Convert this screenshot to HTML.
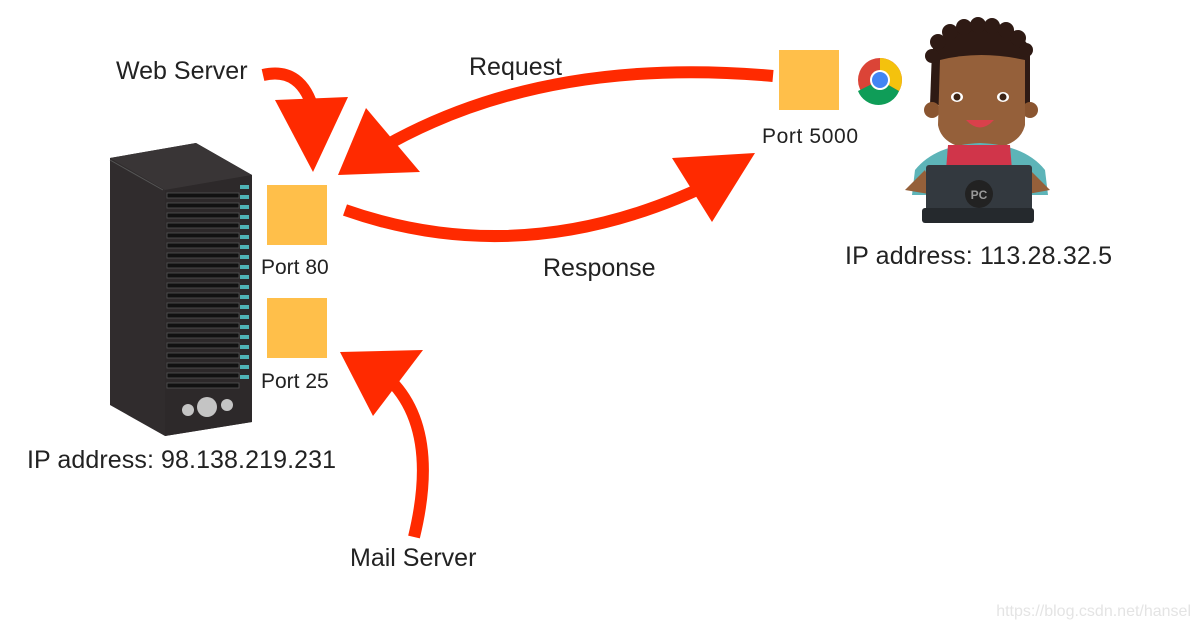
<!DOCTYPE html>
<html><head><style>
body{margin:0;background:#fff;width:1200px;height:628px;overflow:hidden;font-family:"Liberation Sans",sans-serif;}
</style></head><body>
<svg width="1200" height="628" viewBox="0 0 1200 628" xmlns="http://www.w3.org/2000/svg" font-family="Liberation Sans, sans-serif">
<!-- server -->
<polygon points="110,158 196,143 252,175 252,422 165,436 110,405" fill="#302c2d"/>
<polygon points="110,158 196,143 252,175 165,190" fill="#393536"/>
<polygon points="165,190 252,175 252,422 165,436" fill="#2d292a"/>
<line x1="110" y1="160" x2="163" y2="190" stroke="#555" stroke-width="1"/>
<g fill="#111" stroke="#555" stroke-width="0.8">
<rect x="167" y="193" width="72" height="5"/><rect x="167" y="203" width="72" height="5"/><rect x="167" y="213" width="72" height="5"/><rect x="167" y="223" width="72" height="5"/><rect x="167" y="233" width="72" height="5"/><rect x="167" y="243" width="72" height="5"/><rect x="167" y="253" width="72" height="5"/><rect x="167" y="263" width="72" height="5"/><rect x="167" y="273" width="72" height="5"/><rect x="167" y="283" width="72" height="5"/><rect x="167" y="293" width="72" height="5"/><rect x="167" y="303" width="72" height="5"/><rect x="167" y="313" width="72" height="5"/><rect x="167" y="323" width="72" height="5"/><rect x="167" y="333" width="72" height="5"/><rect x="167" y="343" width="72" height="5"/><rect x="167" y="353" width="72" height="5"/><rect x="167" y="363" width="72" height="5"/><rect x="167" y="373" width="72" height="5"/><rect x="167" y="383" width="72" height="5"/>
</g>
<g fill="#4fb3b5">
<rect x="240" y="185" width="9" height="4"/><rect x="240" y="195" width="9" height="4"/><rect x="240" y="205" width="9" height="4"/><rect x="240" y="215" width="9" height="4"/><rect x="240" y="225" width="9" height="4"/><rect x="240" y="235" width="9" height="4"/><rect x="240" y="245" width="9" height="4"/><rect x="240" y="255" width="9" height="4"/><rect x="240" y="265" width="9" height="4"/><rect x="240" y="275" width="9" height="4"/><rect x="240" y="285" width="9" height="4"/><rect x="240" y="295" width="9" height="4"/><rect x="240" y="305" width="9" height="4"/><rect x="240" y="315" width="9" height="4"/><rect x="240" y="325" width="9" height="4"/><rect x="240" y="335" width="9" height="4"/><rect x="240" y="345" width="9" height="4"/><rect x="240" y="355" width="9" height="4"/><rect x="240" y="365" width="9" height="4"/><rect x="240" y="375" width="9" height="4"/>
</g>
<circle cx="188" cy="410" r="6" fill="#c4c4c4"/><circle cx="207" cy="407" r="10" fill="#c4c4c4"/><circle cx="227" cy="405" r="6" fill="#c4c4c4"/>
<!-- ports -->
<rect x="267" y="185" width="60" height="60" fill="#ffbf4a"/>
<rect x="267" y="298" width="60" height="60" fill="#ffbf4a"/>
<rect x="779" y="50" width="60" height="60" fill="#ffbf4a"/>
<!-- chrome -->
<circle cx="880" cy="80" r="22" fill="#db4437"/>
<path d="M880,80 L899,91 A22,22 0 0 1 858,91 Z" fill="#0f9d58"/>
<path d="M880,80 L899,91 A22,22 0 0 0 880,58 Z" fill="#f4c20d"/>
<circle cx="880" cy="80" r="10" fill="#fff"/><circle cx="880" cy="80" r="8" fill="#4285f4"/>
<!-- person -->
<g fill="#2e1a14">
<path d="M932,50 Q950,22 980,22 Q1015,22 1030,48 L1030,105 L930,105 Z"/>
<circle cx="938" cy="42" r="8"/><circle cx="950" cy="32" r="8"/><circle cx="964" cy="27" r="8"/><circle cx="978" cy="25" r="8"/><circle cx="992" cy="26" r="8"/><circle cx="1006" cy="30" r="8"/><circle cx="1018" cy="38" r="8"/><circle cx="1026" cy="50" r="7"/><circle cx="932" cy="56" r="7"/>
</g>
<circle cx="932" cy="110" r="8" fill="#8a5530"/><circle cx="1030" cy="110" r="8" fill="#8a5530"/>
<path d="M940,60 Q980,50 1025,60 L1025,125 Q1020,148 980,150 Q942,148 938,125 Z" fill="#95603a"/>
<ellipse cx="957" cy="97" rx="6" ry="5" fill="#fff"/><ellipse cx="1003" cy="97" rx="6" ry="5" fill="#fff"/>
<circle cx="957" cy="97" r="3.5" fill="#3b2416"/><circle cx="1003" cy="97" r="3.5" fill="#3b2416"/>
<path d="M966,120 Q980,135 994,120 Z" fill="#d9414b"/>
<path d="M915,170 Q935,145 980,143 Q1025,145 1045,170 L1048,195 L912,195 Z" fill="#5db4b8"/>
<path d="M948,145 L1010,145 L1012,170 L946,170 Z" fill="#d0354a"/>
<path d="M905,190 L925,170 L935,195 Z" fill="#95603a"/><path d="M1050,190 L1030,170 L1022,195 Z" fill="#95603a"/>
<rect x="926" y="165" width="106" height="55" rx="3" fill="#33393f"/>
<rect x="922" y="208" width="112" height="15" rx="3" fill="#25292d"/>
<circle cx="979" cy="194" r="14" fill="#222"/>
<text x="979" y="199" font-size="12" font-weight="bold" fill="#999" text-anchor="middle">PC</text>
<!-- arrows -->
<g fill="none" stroke="#ff2a00" stroke-width="12">
<path d="M263,75 Q302,66 314,112"/>
<path d="M773,76 Q540,55 378,150"/>
<path d="M345,210 Q530,275 722,178"/>
<path d="M414,537 Q440,430 390,380"/>
</g>
<g fill="#ff2a00">
<polygon points="275,100 348,97 313,172"/>
<polygon points="338,175 366,108 420,172"/>
<polygon points="755,153 672,158 712,222"/>
<polygon points="340,352 423,350 373,416"/>
</g>
<!-- labels -->
<g fill="#222" font-size="25">
<text x="116" y="79">Web Server</text>
<text x="469" y="75">Request</text>
<text x="543" y="276">Response</text>
<text x="350" y="566">Mail Server</text>
<text x="27" y="468" textLength="309">IP address: 98.138.219.231</text>
<text x="845" y="264" textLength="267">IP address: 113.28.32.5</text>
</g>
<g fill="#222" font-size="21">
<text x="261" y="274">Port 80</text>
<text x="261" y="388">Port 25</text>
<text x="762" y="143" textLength="96">Port 5000</text>
</g>
<text x="1191" y="616" font-size="16" fill="#e4e4e4" text-anchor="end">https://blog.csdn.net/hansel</text>
</svg>
</body></html>
